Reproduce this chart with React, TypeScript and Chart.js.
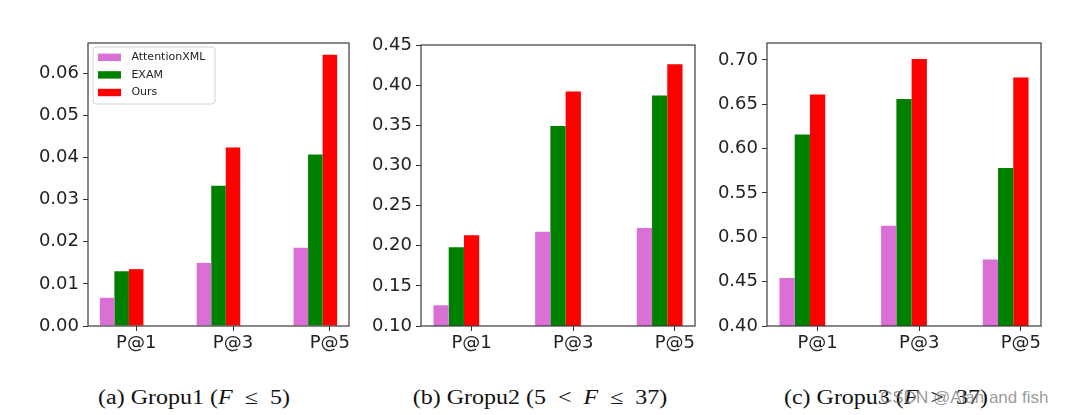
import React, { useEffect, useRef } from 'react';
import { Chart, registerables } from 'chart.js';

Chart.register(...registerables);

const categories = ['P@1', 'P@3', 'P@5'];
const seriesNames = ['AttentionXML', 'EXAM', 'Ours'];
const seriesColors = ['#DA70D6', '#008000', '#FF0000'];

const group1Attention = [0.0067, 0.015, 0.0186];
const group1Exam = [0.013, 0.0333, 0.0407];
const group1Ours = [0.0135, 0.0424, 0.0644];

const group2Attention = [0.126, 0.2175, 0.222];
const group2Exam = [0.198, 0.349, 0.387];
const group2Ours = [0.213, 0.392, 0.426];

const group3Attention = [0.454, 0.513, 0.475];
const group3Exam = [0.616, 0.656, 0.578];
const group3Ours = [0.661, 0.701, 0.68];

const group1Ticks = [0, 0.01, 0.02, 0.03, 0.04, 0.05, 0.06];
const group2Ticks = [0.1, 0.15, 0.2, 0.25, 0.3, 0.35, 0.4, 0.45];
const group3Ticks = [0.4, 0.45, 0.5, 0.55, 0.6, 0.65, 0.7];

const X_MIN = -0.4975;
const X_MAX = 2.1975;

type PanelSpec = {
  left: number;
  width: number;
  height: number;
  yAxisWidth: number;
  padTop: number;
  padRight: number;
  yMin: number;
  yMax: number;
  ticks: number[];
  series: number[][];
  legend: boolean;
};

const panels: PanelSpec[] = [
  { left: 0, width: 360, height: 360, yAxisWidth: 88, padTop: 43, padRight: 11, yMin: 0, yMax: 0.0672, ticks: group1Ticks, series: [group1Attention, group1Exam, group1Ours], legend: true },
  { left: 360, width: 345, height: 360, yAxisWidth: 61, padTop: 45, padRight: 10, yMin: 0.1, yMax: 0.45, ticks: group2Ticks, series: [group2Attention, group2Exam, group2Ours], legend: false },
  { left: 705, width: 372, height: 360, yAxisWidth: 62, padTop: 43, padRight: 36, yMin: 0.4, yMax: 0.719, ticks: group3Ticks, series: [group3Attention, group3Exam, group3Ours], legend: false },
];

const TICK_FONT = { family: "'DejaVu Sans', sans-serif", size: 18 };

const framePlugin = {
  id: 'frame',
  afterDraw(chart: any) {
    const { ctx, chartArea } = chart;
    ctx.save();
    ctx.strokeStyle = '#3a3a3a';
    ctx.lineWidth = 1.2;
    ctx.strokeRect(chartArea.left, chartArea.top, chartArea.right - chartArea.left, chartArea.bottom - chartArea.top);
    ctx.restore();
  },
};

const legendPlugin = {
  id: 'boxLegend',
  afterDraw(chart: any) {
    const { ctx, chartArea } = chart;
    const x = chartArea.left + 5;
    const y = chartArea.top + 4;
    const w = 122;
    const h = 57;
    const r = 3;
    ctx.save();
    ctx.beginPath();
    ctx.moveTo(x + r, y);
    ctx.lineTo(x + w - r, y);
    ctx.arcTo(x + w, y, x + w, y + r, r);
    ctx.lineTo(x + w, y + h - r);
    ctx.arcTo(x + w, y + h, x + w - r, y + h, r);
    ctx.lineTo(x + r, y + h);
    ctx.arcTo(x, y + h, x, y + h - r, r);
    ctx.lineTo(x, y + r);
    ctx.arcTo(x, y, x + r, y, r);
    ctx.closePath();
    ctx.fillStyle = 'rgba(255,255,255,0.85)';
    ctx.fill();
    ctx.strokeStyle = '#d4d4d4';
    ctx.lineWidth = 1;
    ctx.stroke();
    ctx.font = "11px 'DejaVu Sans', sans-serif";
    ctx.textBaseline = 'middle';
    ctx.textAlign = 'left';
    seriesNames.forEach((name, i) => {
      const cy = y + 10.3 + i * 17.6;
      ctx.fillStyle = seriesColors[i];
      ctx.fillRect(x + 5, cy - 3.7, 23, 7.4);
      ctx.fillStyle = '#222';
      ctx.fillText(name, x + 38.4, cy);
    });
    ctx.restore();
  },
};

function Panel({ spec }: { spec: PanelSpec }) {
  const ref = useRef<HTMLCanvasElement | null>(null);
  useEffect(() => {
    if (!ref.current) return;
    const datasets: any[] = spec.series.map((vals, s) => ({
      label: seriesNames[s],
      data: vals.map((v, i) => ({ x: i, y: v })),
      backgroundColor: seriesColors[s],
      borderWidth: 0,
      categoryPercentage: 0.75,
      barPercentage: 1,
    }));
    // two empty slots so each group of five is centred on the last drawn bar
    for (let k = 0; k < 2; k++) {
      datasets.push({ label: '', data: [], backgroundColor: 'transparent', borderWidth: 0, categoryPercentage: 0.75, barPercentage: 1 });
    }
    const chart = new Chart(ref.current, {
      type: 'bar',
      data: { datasets },
      options: {
        animation: false,
        responsive: false,
        maintainAspectRatio: false,
        layout: { padding: { left: 0, right: spec.padRight, top: spec.padTop, bottom: 0 } },
        plugins: { legend: { display: false }, tooltip: { enabled: false } },
        scales: {
          x: {
            type: 'linear',
            min: X_MIN,
            max: X_MAX,
            offset: false,
            afterBuildTicks: (scale: any) => {
              scale.ticks = categories.map((_, i) => ({ value: i }));
            },
            afterFit: (scale: any) => {
              scale.height = 34;
            },
            ticks: {
              callback: (v: any) => categories[Math.round(Number(v))],
              font: TICK_FONT,
              color: '#222',
              padding: 2,
              maxRotation: 0,
              autoSkip: false,
            },
            grid: { display: true, offset: false, drawOnChartArea: false, drawTicks: true, tickLength: 5, color: '#333', lineWidth: 1 },
            border: { display: false },
          },
          y: {
            type: 'linear',
            min: spec.yMin,
            max: spec.yMax,
            afterBuildTicks: (scale: any) => {
              scale.ticks = spec.ticks.map((v) => ({ value: v }));
            },
            afterFit: (scale: any) => {
              scale.width = spec.yAxisWidth;
            },
            ticks: {
              callback: (v: any) => Number(v).toFixed(2),
              font: TICK_FONT,
              color: '#222',
              padding: 4,
            },
            grid: { display: true, drawOnChartArea: false, drawTicks: true, tickLength: 5, color: '#333', lineWidth: 1 },
            border: { display: false },
          },
        },
      } as any,
      plugins: spec.legend ? [framePlugin, legendPlugin] : [framePlugin],
    });
    return () => chart.destroy();
  }, [spec]);
  return (
    <canvas
      ref={ref}
      width={spec.width}
      height={spec.height}
      style={{ position: 'absolute', left: spec.left, top: 0, width: spec.width, height: spec.height }}
    />
  );
}

const captionStyle: React.CSSProperties = {
  position: 'absolute',
  top: 387,
  width: 300,
  textAlign: 'center',
  fontFamily: "'Liberation Serif', 'Times New Roman', serif",
  fontSize: 20,
  lineHeight: '20px',
  color: '#111',
  whiteSpace: 'nowrap',
  transform: 'scaleX(1.2)',
  transformOrigin: 'center',
};

export default function App() {
  return (
    <div style={{ position: 'fixed', left: 0, top: 0, width: 1077, height: 415, background: '#fff', overflow: 'hidden' }}>
      {panels.map((p, i) => (
        <Panel key={i} spec={p} />
      ))}
      <div style={{ ...captionStyle, left: 194 - 150 }}>
        (a) Gropu1 (<i>F</i>{'\u2002≤\u2002'}5)
      </div>
      <div style={{ ...captionStyle, left: 540 - 150 }}>
        (b) Gropu2 (5{'\u2002<\u2002'}<i>F</i>{'\u2002≤\u2002'}37)
      </div>
      <div style={{ ...captionStyle, left: 886 - 150 }}>
        (c) Gropu3 (<i>F</i>{'\u2002>\u2002'}37)
      </div>
      <div
        style={{
          position: 'absolute',
          left: 880,
          top: 388,
          fontFamily: "'Liberation Sans', Arial, sans-serif",
          fontSize: 17,
          lineHeight: '20px',
          color: 'rgba(120,120,120,0.75)',
          whiteSpace: 'nowrap',
        }}
      >
        CSDN @Alan and fish
      </div>
    </div>
  );
}
